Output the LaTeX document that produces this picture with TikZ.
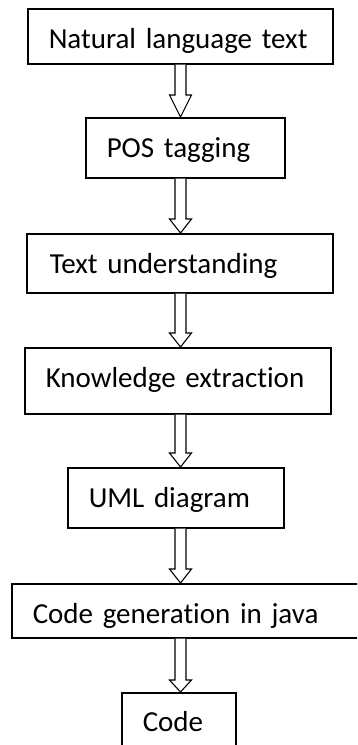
\documentclass[tikz,border=0pt]{standalone}
\usepackage{fontspec}
\setmainfont[Ligatures=NoCommon]{Carlito}
\usetikzlibrary{calc}

\tikzset{
  stagebox/.style={draw, line width=1.5pt, anchor=north west, align=left,
    inner ysep=0pt, inner xsep=21pt, text height=20pt, text depth=0pt,
    font=\fontsize{29}{34}\selectfont},
  arrowline/.style={draw, line width=1.1pt, line join=miter, fill=white},
}

% hollow block arrow from the bottom of #1 to the top of #2, head length #3
\newcommand\hollowarrow[3]{%
  \draw[arrowline] let \p1=(#1.south), \p2=(#2.north), \p3=(axis) in
    (\x3-5.5,\y1) -- (\x3-5.5,\y2+#3) -- (\x3-11,\y2+#3) -- (\x3,\y2)
    -- (\x3+11,\y2+#3) -- (\x3+5.5,\y2+#3) -- (\x3+5.5,\y1);
}

\begin{document}
\begin{tikzpicture}[x=1pt,y=1pt]
  \clip (0,0) rectangle (357,-745);
  \fill[white] (0,0) rectangle (357,-745);
  \coordinate (axis) at (180.5,0);

  \node[stagebox, minimum width=305pt, minimum height=55pt, text width=263pt, text height=25pt]
    (nlt) at (27,-8) {Natural language text};
  \node[stagebox, minimum width=199pt, minimum height=60pt, text width=157pt]
    (pos) at (85,-117) {POS tagging};
  \node[stagebox, minimum width=306pt, minimum height=59pt, text width=260pt, inner xsep=23pt, text height=21pt]
    (tu) at (26,-233) {Text understanding};
  \node[stagebox, minimum width=306pt, minimum height=66pt, text width=264pt, text height=14pt]
    (ke) at (24,-347) {Knowledge extraction};
  \node[stagebox, minimum width=216pt, minimum height=60pt, text width=174pt]
    (uml) at (67,-467) {UML diagram};
  \node[stagebox, minimum width=354pt, minimum height=54pt, text width=312pt, text height=26pt]
    (gen) at (11,-583) {Code generation in java};
  \node[stagebox, minimum width=114pt, minimum height=58pt, text width=72pt]
    (code) at (121,-692) {Code};

  \hollowarrow{nlt}{pos}{22}
  \hollowarrow{pos}{tu}{14}
  \hollowarrow{tu}{ke}{14}
  \hollowarrow{ke}{uml}{14}
  \hollowarrow{uml}{gen}{14}
  \hollowarrow{gen}{code}{12}
\end{tikzpicture}
\end{document}
